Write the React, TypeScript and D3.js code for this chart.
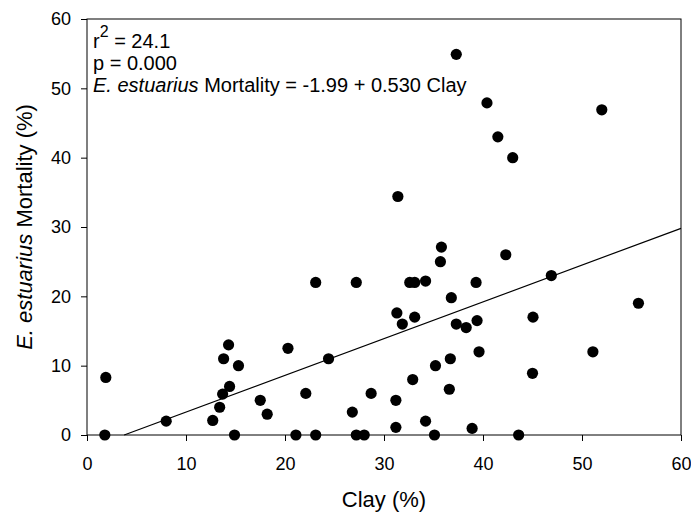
import React, { useRef, useEffect } from "react";
import * as d3 from "d3";

// clay (%) and E. estuarius mortality (%)
const clay = [
  1.9, 1.8, 8.0, 12.7, 13.4, 13.7, 14.4, 13.8, 14.3, 15.3, 14.9, 17.5, 18.2, 20.3, 21.1,
  22.1, 23.1, 23.1, 24.4, 26.8, 27.2, 27.2, 28.0, 28.7, 31.2, 31.2, 31.3, 31.4, 31.85, 32.6,
  33.1, 33.1, 32.9, 34.2, 34.2, 35.1, 35.2, 35.7, 35.8, 36.6, 36.7, 36.8, 37.3, 37.3, 38.3,
  38.9, 39.3, 39.4, 39.6, 40.4, 41.5, 42.3, 43.0, 43.6, 45.0, 45.05, 46.9, 51.1, 52.0, 55.7,
];
const mortality = [
  8.3, 0, 2.0, 2.1, 4.0, 5.9, 7.0, 11.0, 13.0, 10.0, 0, 5.0, 3.0, 12.5, 0,
  6.0, 22.0, 0, 11.0, 3.3, 22.0, 0, 0, 6.0, 5.0, 1.1, 17.6, 34.4, 16.0, 22.0,
  22.0, 17.0, 8.0, 22.2, 2.0, 0, 10.0, 25.0, 27.1, 6.6, 11.0, 19.8, 16.0, 54.9, 15.5,
  0.95, 22.0, 16.5, 12.0, 47.9, 43.0, 26.0, 40.0, 0, 8.9, 17.0, 23.0, 12.0, 46.9, 19.0,
];
const xTicks = [0, 10, 20, 30, 40, 50, 60];
const yTicks = [0, 10, 20, 30, 40, 50, 60];
const intercept = -1.99;
const slope = 0.53;

const W = 691;
const H = 512;
const FONT = "Arial, 'Liberation Sans', sans-serif";

export default function App() {
  const svgRef = useRef(null);

  useEffect(() => {
    const svg = d3.select(svgRef.current);
    svg.selectAll("*").remove();

    const margin = { top: 19, right: 10, bottom: 77, left: 87 };
    const iw = W - margin.left - margin.right;
    const ih = H - margin.top - margin.bottom;

    const x = d3.scaleLinear().domain([0, 60]).range([0, iw]);
    const y = d3.scaleLinear().domain([0, 60]).range([ih, 0]);

    const g = svg.append("g").attr("transform", `translate(${margin.left},${margin.top})`);

    // frame
    g.append("rect")
      .attr("x", 0)
      .attr("y", 0)
      .attr("width", iw)
      .attr("height", ih)
      .attr("fill", "none")
      .attr("stroke", "#000")
      .attr("stroke-width", 1);

    const xAxis = g
      .append("g")
      .attr("transform", `translate(0,${ih})`)
      .call(d3.axisBottom(x).tickValues(xTicks).tickSize(6).tickPadding(16).tickSizeOuter(0));
    const yAxis = g
      .append("g")
      .call(d3.axisLeft(y).tickValues(yTicks).tickSize(6).tickPadding(10).tickSizeOuter(0));

    [xAxis, yAxis].forEach((a) => {
      a.select(".domain").remove();
      a.selectAll("text").attr("font-family", FONT).attr("font-size", 18).attr("fill", "#000");
      a.selectAll("line").attr("stroke", "#000");
    });

    // regression line, clipped at y = 0
    const x0 = -intercept / slope;
    g.append("line")
      .attr("x1", x(x0))
      .attr("y1", y(0))
      .attr("x2", x(60))
      .attr("y2", y(intercept + slope * 60))
      .attr("stroke", "#000")
      .attr("stroke-width", 1.2);

    g.selectAll(".dot")
      .data(clay.map((c, i) => [c, mortality[i]]))
      .enter()
      .append("circle")
      .attr("class", "dot")
      .attr("cx", (d) => x(d[0]))
      .attr("cy", (d) => y(d[1]))
      .attr("r", 5.6)
      .attr("fill", "#000");

    // annotation
    const ann = g.append("g").attr("font-family", FONT).attr("font-size", 20).attr("fill", "#000");
    const t1 = ann.append("text").attr("x", 6).attr("y", 29);
    t1.append("tspan").text("r");
    t1.append("tspan").attr("font-size", 16).attr("dy", -11).text("2");
    t1.append("tspan").attr("dy", 11).text(" = 24.1");
    ann.append("text").attr("x", 6).attr("y", 51).text("p = 0.000");
    const t3 = ann.append("text").attr("x", 6).attr("y", 73);
    t3.append("tspan").attr("font-style", "italic").text("E. estuarius");
    t3.append("tspan").text(" Mortality = -1.99 + 0.530 Clay");

    // axis titles
    svg.append("text")
      .attr("x", margin.left + iw / 2)
      .attr("y", 507)
      .attr("text-anchor", "middle")
      .attr("font-family", FONT)
      .attr("font-size", 22)
      .text("Clay (%)");

    const yt = svg.append("text")
      .attr("transform", `translate(32,${margin.top + ih / 2}) rotate(-90)`)
      .attr("text-anchor", "middle")
      .attr("font-family", FONT)
      .attr("font-size", 22);
    yt.append("tspan").attr("font-style", "italic").text("E. estuarius");
    yt.append("tspan").text(" Mortality (%)");
  }, []);

  return (
    <svg
      ref={svgRef}
      width={W}
      height={H}
      style={{ position: "absolute", left: 0, top: 0, background: "#fff" }}
    />
  );
}
